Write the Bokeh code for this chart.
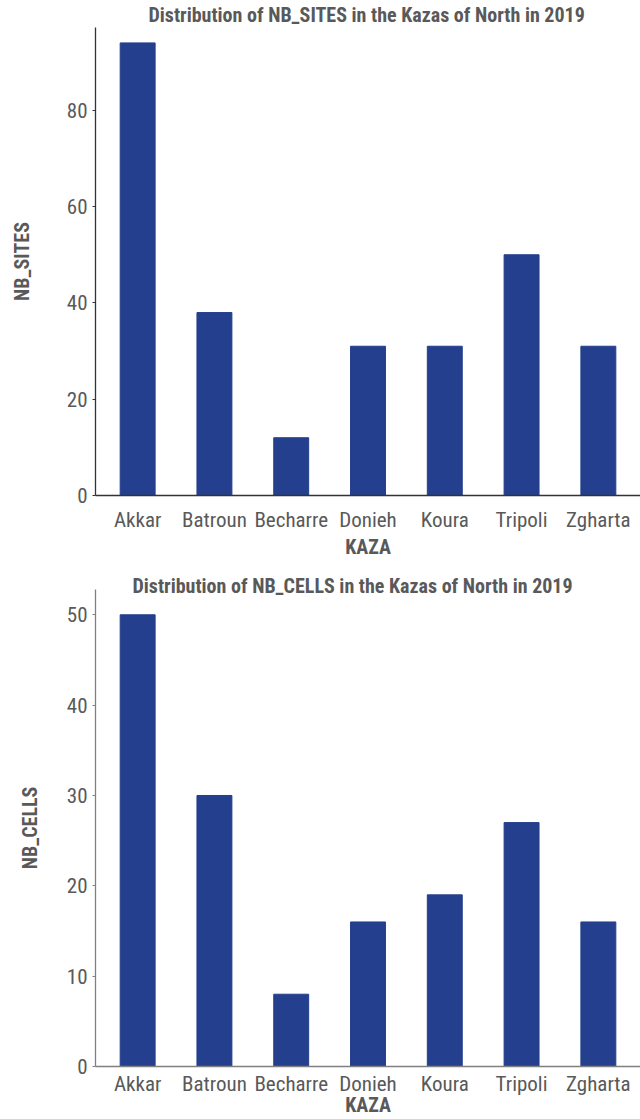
from bokeh.plotting import figure
from bokeh.layouts import column
from bokeh.models import Range1d, FactorRange
from bokeh.embed import file_html
from bokeh.resources import INLINE

kazas = ["Akkar", "Batroun", "Becharre", "Donieh", "Koura", "Tripoli", "Zgharta"]
nb_sites = [94, 38, 12, 31, 31, 50, 31]
nb_cells = [50, 30, 8, 16, 19, 27, 16]
sites_ticks = [0, 20, 40, 60, 80]
cells_ticks = [0, 10, 20, 30, 40, 50]

FONT = "'Liberation Sans Narrow', 'Roboto Condensed', 'DejaVu Sans Condensed', sans-serif"
TXT = "#595959"
BAR = "#243F8D"


def make(vals, ylabel, title, ymax, ticks, h, left, top, bottom, axis_col,
         title_standoff, title_offset, ylab_standoff, xlab_standoff, xtick_standoff):
    p = figure(x_range=FactorRange(*kazas, range_padding=0.014), y_range=Range1d(0, ymax),
               width=640, height=h, output_backend="svg", toolbar_location=None,
               title=title, min_border_left=left, min_border_right=0,
               min_border_top=top, min_border_bottom=bottom)
    p.vbar(x=kazas, top=vals, width=0.455, color=BAR)
    p.title.align = "left"
    p.title.offset = title_offset
    p.title.text_font = FONT
    p.title.text_font_size = "20px"
    p.title.text_font_style = "bold"
    p.title.text_color = TXT
    p.title.standoff = title_standoff
    p.grid.visible = False
    p.outline_line_color = None
    for ax in (p.xaxis, p.yaxis):
        ax.axis_line_color = axis_col
        ax.axis_line_width = 1.3
        ax.major_label_text_font = FONT
        ax.major_label_text_font_size = "21px"
        ax.major_label_text_color = TXT
        ax.axis_label_text_font = FONT
        ax.axis_label_text_font_size = "20px"
        ax.axis_label_text_font_style = "bold"
        ax.axis_label_text_color = TXT
        ax.minor_tick_line_color = None
    p.xaxis.axis_label = "KAZA"
    p.xaxis.major_tick_line_color = None
    p.xaxis.major_tick_out = 0
    p.xaxis.major_tick_in = 0
    p.xaxis.major_label_standoff = xtick_standoff
    p.xaxis.axis_label_standoff = xlab_standoff
    p.yaxis.axis_label = ylabel
    p.yaxis.ticker = ticks
    p.yaxis.major_tick_line_color = axis_col
    p.yaxis.major_tick_in = 0
    p.yaxis.major_tick_out = 3
    p.yaxis.major_label_standoff = 5
    p.yaxis.axis_label_standoff = ylab_standoff
    return p


p1 = make(nb_sites, "NB_SITES", "Distribution of NB_SITES in the Kazas of North in 2019",
          97.2, sites_ticks, 565, 90, 0, 70, "#333333", 1, 53, 30, 0, 12)
p2 = make(nb_cells, "NB_CELLS", "Distribution of NB_CELLS in the Kazas of North in 2019",
          52.8, cells_ticks, 554, 95, 24, 52, "#808080", -17, 37, 22, -6, 5)

layout = column(p1, p2, spacing=0)
open("out.html", "w").write(file_html(layout, INLINE))
